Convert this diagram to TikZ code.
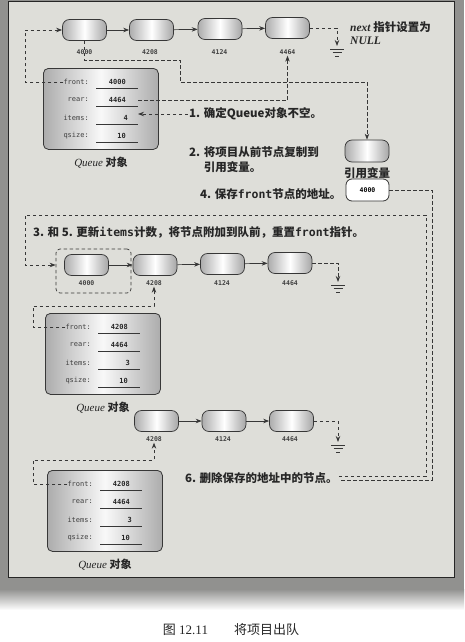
\documentclass[tikz,border=0pt]{standalone}
\usepackage{fontspec}
\setmainfont{Liberation Serif}
\newfontfamily\cjk{Noto Sans CJK SC}
\newfontfamily\mono{DejaVu Sans Mono}
\usetikzlibrary{arrows.meta}

\definecolor{panel}{RGB}{222,222,217}
\definecolor{rim}{RGB}{145,145,143}
\definecolor{ink}{RGB}{55,55,55}

\newcommand\mtt[1]{{\mono\bfseries #1}}

\tikzset{
  lnode/.style={draw=ink, line width=0.7pt, rounded corners=7pt,
    minimum width=44pt, minimum height=21pt, inner sep=0pt,
    left color=gray!65, right color=gray!70, middle color=white},
  qframe/.style={draw=ink, line width=0.8pt, rounded corners=5pt,
    minimum width=115pt, minimum height=81pt, inner sep=0pt,
    left color=gray!65, right color=gray!65, middle color=gray!5},
  rbox/.style={draw=gray!40!black, line width=0.8pt, rounded corners=6pt,
    fill=white, minimum width=43pt, minimum height=22pt, inner sep=0pt,
    font=\mono\bfseries\fontsize{6.5}{7}\selectfont},
  fbox/.style={draw=ink, line width=0.7pt, dash pattern=on 3.5pt off 2.5pt,
    rounded corners=4pt, minimum width=75pt, minimum height=44pt, inner sep=0pt},
  addr/.style={font=\mono\bfseries\fontsize{6.5}{7}\selectfont, text=black!75, inner sep=1pt},
  flabel/.style={font=\mono\fontsize{7}{8}\selectfont, text=black!75, inner sep=0pt},
  fval/.style={font=\mono\bfseries\fontsize{7}{8}\selectfont, text=black!85, inner sep=0pt},
  uline/.style={draw=ink, line width=0.8pt},
  dl/.style={draw=ink, line width=0.8pt, dash pattern=on 3.5pt off 2.5pt},
  tip/.style={-{Stealth[length=6pt,width=4.5pt]}},
  link/.style={draw=ink, line width=0.7pt, -{Stealth[length=6pt,width=4.5pt]}},
  zh/.style={font=\cjk\bfseries\fontsize{11.5}{15}\selectfont, text=black!85, inner sep=1pt},
  qcap/.style={font=\fontsize{11}{13}\selectfont, text=black!85, inner sep=1pt},
}

% ground symbol below a dashed NULL pointer
\newcommand\groundsym[2]{%
  \draw[ink, line width=0.8pt]
    (#1-7,#2) -- (#1+7,#2)
    (#1-4.5,#2+3.5) -- (#1+4.5,#2+3.5)
    (#1-2,#2+7) -- (#1+2,#2+7);}

% queue object: name, left, top, front, rear, items, qsize
\newcommand\queueobj[7]{%
  \begin{scope}[shift={(#2,#3)}]
    \node[qframe, anchor=north west] (#1) at (0,0) {};
    \node[flabel, anchor=east] (#1-fl) at (46,14) {front:};
    \node[fval, anchor=east] (#1-fv) at (83,14) {#4};
    \node[flabel, anchor=east] (#1-rl) at (46,32) {rear:};
    \node[fval, anchor=east] (#1-rv) at (83,32) {#5};
    \node[flabel, anchor=east] (#1-il) at (46,50) {items:};
    \node[fval, anchor=east] (#1-iv) at (85,50) {#6};
    \node[flabel, anchor=east] (#1-sl) at (46,68) {qsize:};
    \node[fval, anchor=east] (#1-sv) at (83,68) {#7};
    \draw[uline] (53,20) -- (95,20) (53,38) -- (95,38)
                 (53,56) -- (95,56) (53,74) -- (95,74);
    \coordinate (#1-fe) at (95,14);
    \coordinate (#1-re) at (95,32);
    \coordinate (#1-ie) at (95,50);
    \node[qcap] (#1-cap) at (58,95) {{\itshape Queue} {\cjk\bfseries 对象}};
  \end{scope}}

\begin{document}
\begin{tikzpicture}[x=1pt,y=-1pt]
\useasboundingbox (0,0) rectangle (464,642);
\fill[white] (0,0) rectangle (464,642);
\fill[rim] (0,0) rectangle (464,590);
\shade[top color=rim, bottom color=white] (0,589) rectangle (464,610);
\filldraw[fill=panel, draw=black!85, line width=0.8pt] (8,1.5) rectangle (454,577);

% ---- initial queue ----
\node[lnode] (n11) at (84.5,30) {};
\node[lnode] (n12) at (151.5,30) {};
\node[lnode] (n13) at (220,29) {};
\node[lnode] (n14) at (287.5,28) {};
\draw[link] (n11) -- (n12);
\draw[link] (n12) -- (n13);
\draw[link] (n13) -- (n14);
\draw[dl, tip] (n14.east) -| (337,46);
\groundsym{337}{49}
\node[zh, anchor=west] (tnext) at (349,27) {{\rmfamily\itshape next} 指针设置为};
\node[zh, anchor=west] (tnull) at (349,41) {\rmfamily\bfseries\itshape NULL};

\queueobj{q1}{43}{68}{4000}{4464}{4}{10}

% item copied into the reference variable
\node[lnode, minimum height=22pt] (rb1) at (367,151) {};
\node[zh] (rbl) at (367,173) {引用变量};
\draw[dl, tip] (n11.south) |- (180,60) -- (180,82) -| (rb1.north);

\node[addr] (l11) at (84.5,52) {4000};
\node[addr] (l12) at (150,52) {4208};
\node[addr] (l13) at (219.5,52) {4124};
\node[addr] (l14) at (287.5,52) {4464};

\draw[dl, tip] (q1-fl.west) -- (25,82) |- (n11.west);
\draw[dl, tip] (q1-re) -| (l14.south);

\node[zh, anchor=west] (t1) at (188,114) {1. 确定Queue对象不空。};
\draw[dl, tip] (t1.west) -- (t1.west -| q1-ie);

\node[zh, anchor=west, align=left] (t2) at (188,159.5)
  {2. 将项目从前节点复制到\\\phantom{2. }引用变量。};

\node[rbox] (rb2) at (367.5,190) {4000};
\node[zh, anchor=west] (t4) at (199,194) {4. 保存\mtt{front}节点的地址。};

\node[zh, anchor=west] (t3) at (32,232)
  {3. 和 5. 更新\mtt{items}计数，将节点附加到队前，重置\mtt{front}指针。};

% ---- front node detached ----
\node[lnode] (r21) at (86.5,265) {};
\node[lnode] (r22) at (155,265) {};
\node[lnode] (r23) at (222.5,264) {};
\node[lnode] (r24) at (290,263) {};
\node[addr] (l21) at (86.5,283) {4000};
\node[addr] (l22) at (154,283) {4208};
\node[addr] (l23) at (222,283) {4124};
\node[addr] (l24) at (290,283) {4464};
\node[fbox] (fb) at (93.5,271) {};
\draw[link] (r21) -- (r22);
\draw[link] (r22) -- (r23);
\draw[link] (r23) -- (r24);
\draw[dl, tip] (r24.east) -| (338,282);
\groundsym{338}{285}

\queueobj{q2}{45}{313}{4208}{4464}{3}{10}
\draw[dl, tip] (q2-fl.west) -| (33,306) -| (l22.south);

% ---- after the node is freed ----
\node[lnode] (r32) at (156.5,421) {};
\node[lnode] (r33) at (224,421) {};
\node[lnode] (r34) at (291.5,421) {};
\node[addr] (l32) at (154,439) {4208};
\node[addr] (l33) at (223,439) {4124};
\node[addr] (l34) at (290,439) {4464};
\draw[link] (r32) -- (r33);
\draw[link] (r33) -- (r34);
\draw[dl, tip] (r34.east) -| (338,442);
\groundsym{338}{445}

\queueobj{q3}{47}{470}{4208}{4464}{3}{10}
\draw[dl, tip] (q3-fl.west) -| (33,460) -| (l32.south);

\node[zh, anchor=west] (t6) at (184,478) {6. 删除保存的地址中的节点。};

% dashed routes of steps 3/5 and 4/6
\draw[dl, tip] ([yshift=2pt]t6.east) -| (426,215) -| (25,265) -- (fb.west |- r21);
\draw[dl] (rb2.east) -| (432,480) -- ([yshift=-2pt]t6.east);

\node[font=\fontsize{13}{15}\selectfont, text=black!85] (cap) at (231,630)
  {{\cjk 图} 12.11\hspace{2em}{\cjk 将项目出队}};
\end{tikzpicture}
\end{document}
